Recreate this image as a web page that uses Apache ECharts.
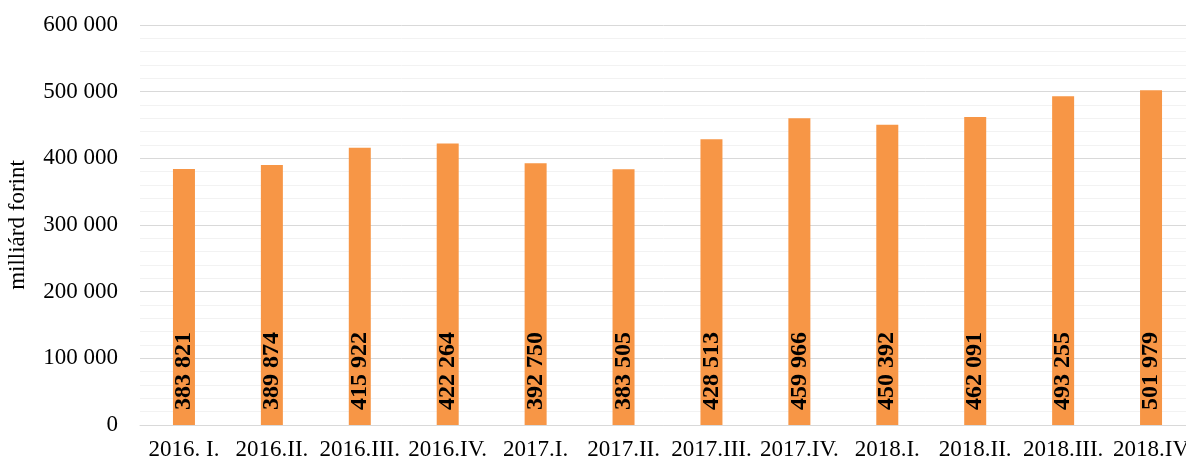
<!DOCTYPE html>
<html>
<head>
<meta charset="utf-8">
<script src="https://cdn.jsdelivr.net/npm/echarts@6/dist/echarts.min.js"></script>
<style>
  html, body { margin: 0; padding: 0; background: #fff; }
  #chart { width: 1186px; height: 459px; }
</style>
</head>
<body>
<div id="chart"></div>
<script>
// negyedévek
var categories = ['2016. I.', '2016.II.', '2016.III.', '2016.IV.', '2017.I.', '2017.II.',
                  '2017.III.', '2017.IV.', '2018.I.', '2018.II.', '2018.III.', '2018.IV'];
// milliárd forint
var values = [383821, 389874, 415922, 422264, 392750, 383505,
              428513, 459966, 450392, 462091, 493255, 501979];

function spaced(n) {
  return String(n).replace(/\B(?=(\d{3})+(?!\d))/g, ' ');
}

var chart = echarts.init(document.getElementById('chart'));

var option = {
  animation: false,
  textStyle: { fontFamily: '"Liberation Serif", "Times New Roman", serif' },
  grid: { left: 140, width: 1055, top: 25, height: 400, outerBoundsMode: 'none', containLabel: false },
  xAxis: {
    type: 'category',
    data: categories,
    axisTick: { show: false },
    axisLine: { lineStyle: { color: '#d9d9d9', width: 1 } },
    axisLabel: {
      color: '#000', fontSize: 23, margin: 13, interval: 0,
      fontFamily: '"Liberation Serif", serif'
    }
  },
  yAxis: {
    type: 'value',
    min: 0, max: 600000, interval: 100000,
    name: 'milliárd forint',
    nameLocation: 'middle',
    nameGap: 111,
    nameTextStyle: { color: '#000', fontSize: 23, fontFamily: '"Liberation Serif", serif' },
    axisLine: { show: false },
    axisTick: { show: false },
    axisLabel: {
      color: '#000', fontSize: 23, margin: 22,
      fontFamily: '"Liberation Serif", serif',
      formatter: function (v) { return spaced(v); }
    },
    splitLine: { lineStyle: { color: '#d9d9d9', width: 1 } },
    minorTick: { show: false, splitNumber: 5 },
    minorSplitLine: { show: true, lineStyle: { color: '#f2f2f2', width: 1 } }
  },
  series: [{
    type: 'bar',
    data: values,
    barWidth: 22,
    itemStyle: { color: '#f79646' },
    label: {
      show: true,
      position: 'insideBottom',
      rotate: 90,
      align: 'left',
      verticalAlign: 'middle',
      distance: 15,
      color: '#000',
      fontSize: 24,
      fontWeight: 'bold',
      fontFamily: '"Liberation Serif", serif',
      formatter: function (p) { return spaced(p.value); }
    }
  }]
};

chart.setOption(option);
</script>
</body>
</html>
